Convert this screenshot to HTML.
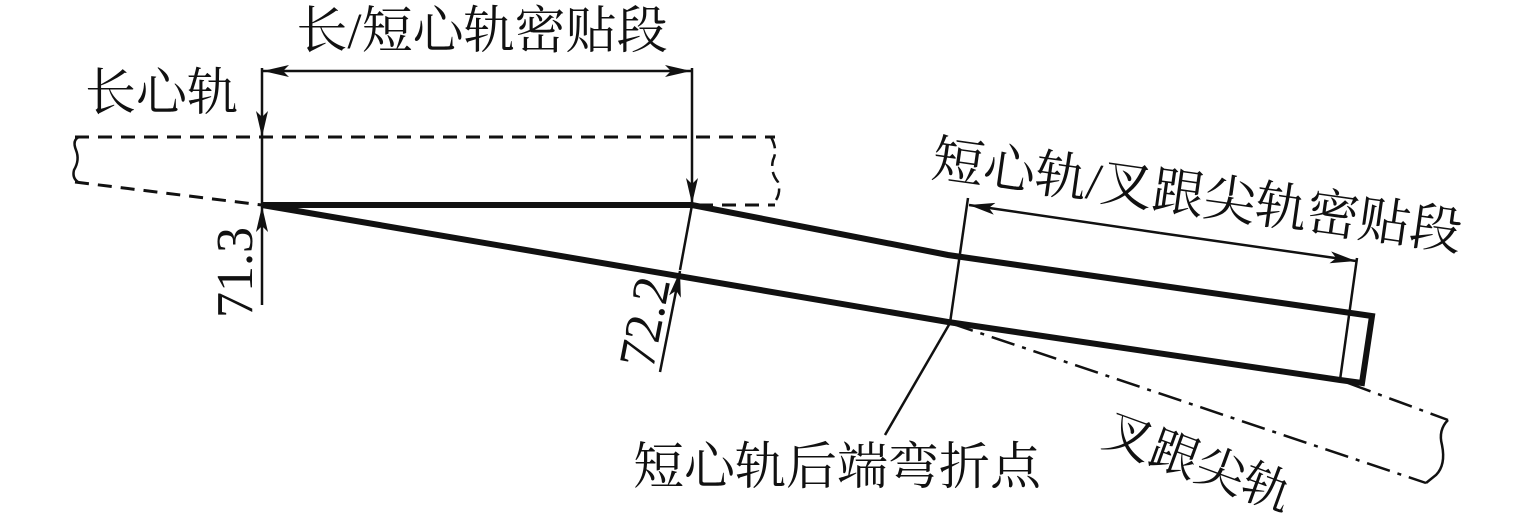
<!DOCTYPE html>
<html><head><meta charset="utf-8"><style>
html,body{margin:0;padding:0;background:#fff;}
svg{display:block;}
text{font-family:"Liberation Serif","Noto Serif CJK SC",serif;fill:#111;}
</style></head><body>
<svg width="1535" height="519" viewBox="0 0 1535 519" xmlns="http://www.w3.org/2000/svg">
<defs>
<marker id="a" viewBox="0 0 26 12" refX="26" refY="6" markerWidth="26" markerHeight="12" markerUnits="userSpaceOnUse" orient="auto"><path d="M0,0 L26,6 L0,12 L6,6 z" fill="#111"/></marker>
</defs>
<g stroke="#111" fill="none">
<path d="M75,137 L775,137" stroke-width="3" stroke-dasharray="14,9"/>
<path d="M262,205 L775,205" stroke-width="3" stroke-dasharray="14,9"/>
<path d="M75,182 L262,205" stroke-width="3" stroke-dasharray="14,9"/>
<path d="M79,137 Q72,140 76,150 Q80,160 74,170 Q72,178 78,182" stroke-width="2.5"/>
<path d="M771,137 Q778,150 773,160 Q770,172 778,182 Q782,195 772,205" stroke-width="2.5" stroke-dasharray="12,6"/>
<path d="M262,205 L692,205 L948,255 L1372,316 L1362,383 L1340,380 L948,322 L262,205" stroke-width="6" stroke-linejoin="miter"/>
<path d="M950,323 L1426,483" stroke-width="2.5" stroke-dasharray="24,8,4,8"/>
<path d="M1348,383 L1448,420" stroke-width="2.5" stroke-dasharray="24,8,4,8"/>
<path d="M1448,420 Q1438,430 1442,445 Q1446,465 1436,475 L1426,483" stroke-width="2.5"/>
<path d="M262,68 L262,137" stroke-width="2.5" marker-end="url(#a)"/>
<path d="M262,137 L262,205" stroke-width="2.5"/>
<path d="M262,305 L262,206" stroke-width="2.5" marker-end="url(#a)"/>
<path d="M692,68 L692,204" stroke-width="2.5" marker-end="url(#a)"/>
<path d="M477,71 L263,71" stroke-width="2.5" marker-end="url(#a)"/>
<path d="M477,71 L691,71" stroke-width="2.5" marker-end="url(#a)"/>
<path d="M692,205 L680,270" stroke-width="2.5"/>
<path d="M660,372 L680,271" stroke-width="2.5" marker-end="url(#a)"/>
<path d="M968,198 L950,323" stroke-width="2.5"/>
<path d="M1357,258 L1340,380" stroke-width="2.5"/>
<path d="M1160,233 L969,205" stroke-width="2.5" marker-end="url(#a)"/>
<path d="M1160,233 L1356,261" stroke-width="2.5" marker-end="url(#a)"/>
<path d="M950,323 L885,435" stroke-width="2.5"/>
</g>
<text x="482" y="48" font-size="51" text-anchor="middle">长/短心轨密贴段</text>
<text x="85" y="110" font-size="51">长心轨</text>
<text transform="translate(252,318) rotate(-90)" font-size="52">71.3</text>
<text transform="translate(653,370) rotate(-79)" font-size="52">72.2</text>
<text transform="translate(930,176) rotate(8)" font-size="52">短心轨/叉跟尖轨密贴段</text>
<text x="633" y="484" font-size="51">短心轨后端弯折点</text>
<text transform="translate(1100,445) rotate(20)" font-size="49">叉跟尖轨</text>
</svg>
</body></html>
